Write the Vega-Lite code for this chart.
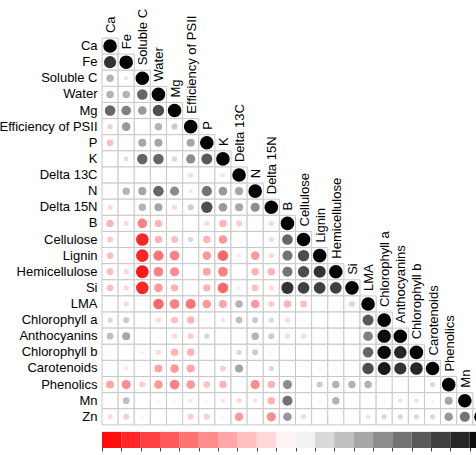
{
  "$schema": "https://vega.github.io/schema/vega-lite/v6.json",
  "autosize": {"type": "none"},
  "padding": {"left": 102, "top": 38, "right": 0, "bottom": 30},
  "width": 387,
  "height": 403,
  "config": {"view": {"stroke": null}},
  "datasets": {
    "corr": [
      {"r":"Ca","c":"Ca","v":1},
      {"r":"Fe","c":"Ca","v":0.8},{"r":"Fe","c":"Fe","v":1},
      {"r":"Soluble C","c":"Ca","v":0.3},{"r":"Soluble C","c":"Fe","v":0.1},{"r":"Soluble C","c":"Soluble C","v":1},
      {"r":"Water","c":"Ca","v":0.3},{"r":"Water","c":"Fe","v":0.3},{"r":"Water","c":"Soluble C","v":0.6},{"r":"Water","c":"Water","v":1},
      {"r":"Mg","c":"Ca","v":0.6},{"r":"Mg","c":"Fe","v":0.5},{"r":"Mg","c":"Soluble C","v":0.4},{"r":"Mg","c":"Water","v":0.7},{"r":"Mg","c":"Mg","v":1},
      {"r":"Efficiency of PSII","c":"Ca","v":0.15},{"r":"Efficiency of PSII","c":"Fe","v":0.4},{"r":"Efficiency of PSII","c":"Soluble C","v":0.03},{"r":"Efficiency of PSII","c":"Water","v":0.3},{"r":"Efficiency of PSII","c":"Mg","v":0.2},{"r":"Efficiency of PSII","c":"Efficiency of PSII","v":1},
      {"r":"P","c":"Ca","v":-0.25},{"r":"P","c":"Fe","v":0.02},{"r":"P","c":"Soluble C","v":0.35},{"r":"P","c":"Water","v":0.35},{"r":"P","c":"Mg","v":0.0},{"r":"P","c":"Efficiency of PSII","v":0.35},{"r":"P","c":"P","v":1},
      {"r":"K","c":"Ca","v":0.0},{"r":"K","c":"Fe","v":0.12},{"r":"K","c":"Soluble C","v":0.6},{"r":"K","c":"Water","v":0.6},{"r":"K","c":"Mg","v":0.15},{"r":"K","c":"Efficiency of PSII","v":0.45},{"r":"K","c":"P","v":0.65},{"r":"K","c":"K","v":1},
      {"r":"Delta 13C","c":"Ca","v":0.0},{"r":"Delta 13C","c":"Fe","v":0.02},{"r":"Delta 13C","c":"Soluble C","v":0.02},{"r":"Delta 13C","c":"Water","v":0.03},{"r":"Delta 13C","c":"Mg","v":0.0},{"r":"Delta 13C","c":"Efficiency of PSII","v":-0.15},{"r":"Delta 13C","c":"P","v":0.02},{"r":"Delta 13C","c":"K","v":-0.12},{"r":"Delta 13C","c":"Delta 13C","v":1},
      {"r":"N","c":"Ca","v":0.03},{"r":"N","c":"Fe","v":0.3},{"r":"N","c":"Soluble C","v":0.35},{"r":"N","c":"Water","v":0.6},{"r":"N","c":"Mg","v":0.45},{"r":"N","c":"Efficiency of PSII","v":0.08},{"r":"N","c":"P","v":0.55},{"r":"N","c":"K","v":0.4},{"r":"N","c":"Delta 13C","v":0.35},{"r":"N","c":"N","v":1},
      {"r":"Delta 15N","c":"Ca","v":-0.15},{"r":"Delta 15N","c":"Fe","v":0.03},{"r":"Delta 15N","c":"Soluble C","v":0.3},{"r":"Delta 15N","c":"Water","v":0.35},{"r":"Delta 15N","c":"Mg","v":-0.15},{"r":"Delta 15N","c":"Efficiency of PSII","v":0.2},{"r":"Delta 15N","c":"P","v":0.7},{"r":"Delta 15N","c":"K","v":0.4},{"r":"Delta 15N","c":"Delta 13C","v":0.35},{"r":"Delta 15N","c":"N","v":0.45},{"r":"Delta 15N","c":"Delta 15N","v":1},
      {"r":"B","c":"Ca","v":-0.3},{"r":"B","c":"Fe","v":-0.15},{"r":"B","c":"Soluble C","v":-0.5},{"r":"B","c":"Water","v":-0.3},{"r":"B","c":"Mg","v":-0.03},{"r":"B","c":"Efficiency of PSII","v":0.0},{"r":"B","c":"P","v":-0.15},{"r":"B","c":"K","v":-0.3},{"r":"B","c":"Delta 13C","v":-0.2},{"r":"B","c":"N","v":0.02},{"r":"B","c":"Delta 15N","v":-0.15},{"r":"B","c":"B","v":1},
      {"r":"Cellulose","c":"Ca","v":-0.2},{"r":"Cellulose","c":"Fe","v":-0.02},{"r":"Cellulose","c":"Soluble C","v":-0.85},{"r":"Cellulose","c":"Water","v":-0.3},{"r":"Cellulose","c":"Mg","v":-0.25},{"r":"Cellulose","c":"Efficiency of PSII","v":0.15},{"r":"Cellulose","c":"P","v":-0.3},{"r":"Cellulose","c":"K","v":-0.4},{"r":"Cellulose","c":"Delta 13C","v":0.0},{"r":"Cellulose","c":"N","v":-0.02},{"r":"Cellulose","c":"Delta 15N","v":-0.15},{"r":"Cellulose","c":"B","v":0.6},{"r":"Cellulose","c":"Cellulose","v":1},
      {"r":"Lignin","c":"Ca","v":-0.25},{"r":"Lignin","c":"Fe","v":-0.03},{"r":"Lignin","c":"Soluble C","v":-0.85},{"r":"Lignin","c":"Water","v":-0.55},{"r":"Lignin","c":"Mg","v":-0.5},{"r":"Lignin","c":"Efficiency of PSII","v":0.0},{"r":"Lignin","c":"P","v":-0.4},{"r":"Lignin","c":"K","v":-0.6},{"r":"Lignin","c":"Delta 13C","v":-0.1},{"r":"Lignin","c":"N","v":-0.4},{"r":"Lignin","c":"Delta 15N","v":-0.15},{"r":"Lignin","c":"B","v":0.55},{"r":"Lignin","c":"Cellulose","v":0.7},{"r":"Lignin","c":"Lignin","v":1},
      {"r":"Hemicellulose","c":"Ca","v":-0.25},{"r":"Hemicellulose","c":"Fe","v":-0.15},{"r":"Hemicellulose","c":"Soluble C","v":-0.9},{"r":"Hemicellulose","c":"Water","v":-0.5},{"r":"Hemicellulose","c":"Mg","v":-0.45},{"r":"Hemicellulose","c":"Efficiency of PSII","v":0.0},{"r":"Hemicellulose","c":"P","v":-0.35},{"r":"Hemicellulose","c":"K","v":-0.5},{"r":"Hemicellulose","c":"Delta 13C","v":0.02},{"r":"Hemicellulose","c":"N","v":-0.3},{"r":"Hemicellulose","c":"Delta 15N","v":-0.3},{"r":"Hemicellulose","c":"B","v":0.55},{"r":"Hemicellulose","c":"Cellulose","v":0.7},{"r":"Hemicellulose","c":"Lignin","v":0.8},{"r":"Hemicellulose","c":"Hemicellulose","v":1},
      {"r":"Si","c":"Ca","v":-0.25},{"r":"Si","c":"Fe","v":-0.15},{"r":"Si","c":"Soluble C","v":-0.85},{"r":"Si","c":"Water","v":-0.4},{"r":"Si","c":"Mg","v":-0.3},{"r":"Si","c":"Efficiency of PSII","v":-0.02},{"r":"Si","c":"P","v":-0.3},{"r":"Si","c":"K","v":-0.6},{"r":"Si","c":"Delta 13C","v":-0.08},{"r":"Si","c":"N","v":-0.25},{"r":"Si","c":"Delta 15N","v":-0.15},{"r":"Si","c":"B","v":0.8},{"r":"Si","c":"Cellulose","v":0.75},{"r":"Si","c":"Lignin","v":0.75},{"r":"Si","c":"Hemicellulose","v":0.75},{"r":"Si","c":"Si","v":1},
      {"r":"LMA","c":"Ca","v":-0.05},{"r":"LMA","c":"Fe","v":-0.15},{"r":"LMA","c":"Soluble C","v":-0.05},{"r":"LMA","c":"Water","v":-0.6},{"r":"LMA","c":"Mg","v":-0.5},{"r":"LMA","c":"Efficiency of PSII","v":-0.55},{"r":"LMA","c":"P","v":-0.4},{"r":"LMA","c":"K","v":-0.35},{"r":"LMA","c":"Delta 13C","v":0.3},{"r":"LMA","c":"N","v":-0.4},{"r":"LMA","c":"Delta 15N","v":-0.2},{"r":"LMA","c":"B","v":-0.3},{"r":"LMA","c":"Cellulose","v":-0.25},{"r":"LMA","c":"Lignin","v":0.02},{"r":"LMA","c":"Hemicellulose","v":0.02},{"r":"LMA","c":"Si","v":-0.2},{"r":"LMA","c":"LMA","v":1},
      {"r":"Chlorophyll a","c":"Ca","v":0.15},{"r":"Chlorophyll a","c":"Fe","v":0.2},{"r":"Chlorophyll a","c":"Soluble C","v":0.02},{"r":"Chlorophyll a","c":"Water","v":-0.15},{"r":"Chlorophyll a","c":"Mg","v":-0.25},{"r":"Chlorophyll a","c":"Efficiency of PSII","v":-0.3},{"r":"Chlorophyll a","c":"P","v":-0.05},{"r":"Chlorophyll a","c":"K","v":-0.12},{"r":"Chlorophyll a","c":"Delta 13C","v":0.25},{"r":"Chlorophyll a","c":"N","v":0.2},{"r":"Chlorophyll a","c":"Delta 15N","v":0.15},{"r":"Chlorophyll a","c":"B","v":-0.15},{"r":"Chlorophyll a","c":"Cellulose","v":0.03},{"r":"Chlorophyll a","c":"Lignin","v":0.0},{"r":"Chlorophyll a","c":"Hemicellulose","v":0.0},{"r":"Chlorophyll a","c":"Si","v":0.03},{"r":"Chlorophyll a","c":"LMA","v":0.65},{"r":"Chlorophyll a","c":"Chlorophyll a","v":1},
      {"r":"Anthocyanins","c":"Ca","v":0.25},{"r":"Anthocyanins","c":"Fe","v":0.35},{"r":"Anthocyanins","c":"Soluble C","v":-0.03},{"r":"Anthocyanins","c":"Water","v":-0.05},{"r":"Anthocyanins","c":"Mg","v":-0.15},{"r":"Anthocyanins","c":"Efficiency of PSII","v":-0.2},{"r":"Anthocyanins","c":"P","v":0.15},{"r":"Anthocyanins","c":"K","v":-0.03},{"r":"Anthocyanins","c":"Delta 13C","v":0.03},{"r":"Anthocyanins","c":"N","v":0.3},{"r":"Anthocyanins","c":"Delta 15N","v":0.2},{"r":"Anthocyanins","c":"B","v":-0.15},{"r":"Anthocyanins","c":"Cellulose","v":-0.15},{"r":"Anthocyanins","c":"Lignin","v":0.02},{"r":"Anthocyanins","c":"Hemicellulose","v":0.0},{"r":"Anthocyanins","c":"Si","v":0.02},{"r":"Anthocyanins","c":"LMA","v":0.5},{"r":"Anthocyanins","c":"Chlorophyll a","v":0.95},{"r":"Anthocyanins","c":"Anthocyanins","v":1},
      {"r":"Chlorophyll b","c":"Ca","v":0.0},{"r":"Chlorophyll b","c":"Fe","v":0.03},{"r":"Chlorophyll b","c":"Soluble C","v":0.05},{"r":"Chlorophyll b","c":"Water","v":-0.15},{"r":"Chlorophyll b","c":"Mg","v":-0.3},{"r":"Chlorophyll b","c":"Efficiency of PSII","v":-0.3},{"r":"Chlorophyll b","c":"P","v":-0.03},{"r":"Chlorophyll b","c":"K","v":-0.02},{"r":"Chlorophyll b","c":"Delta 13C","v":0.15},{"r":"Chlorophyll b","c":"N","v":0.2},{"r":"Chlorophyll b","c":"Delta 15N","v":0.05},{"r":"Chlorophyll b","c":"B","v":0.02},{"r":"Chlorophyll b","c":"Cellulose","v":0.02},{"r":"Chlorophyll b","c":"Lignin","v":0.02},{"r":"Chlorophyll b","c":"Hemicellulose","v":0.03},{"r":"Chlorophyll b","c":"Si","v":0.0},{"r":"Chlorophyll b","c":"LMA","v":0.6},{"r":"Chlorophyll b","c":"Chlorophyll a","v":0.97},{"r":"Chlorophyll b","c":"Anthocyanins","v":0.85},{"r":"Chlorophyll b","c":"Chlorophyll b","v":1},
      {"r":"Carotenoids","c":"Ca","v":0.0},{"r":"Carotenoids","c":"Fe","v":-0.1},{"r":"Carotenoids","c":"Soluble C","v":-0.02},{"r":"Carotenoids","c":"Water","v":-0.35},{"r":"Carotenoids","c":"Mg","v":-0.4},{"r":"Carotenoids","c":"Efficiency of PSII","v":-0.35},{"r":"Carotenoids","c":"P","v":0.0},{"r":"Carotenoids","c":"K","v":-0.2},{"r":"Carotenoids","c":"Delta 13C","v":0.35},{"r":"Carotenoids","c":"N","v":0.03},{"r":"Carotenoids","c":"Delta 15N","v":0.15},{"r":"Carotenoids","c":"B","v":0.02},{"r":"Carotenoids","c":"Cellulose","v":0.0},{"r":"Carotenoids","c":"Lignin","v":0.05},{"r":"Carotenoids","c":"Hemicellulose","v":0.05},{"r":"Carotenoids","c":"Si","v":0.0},{"r":"Carotenoids","c":"LMA","v":0.7},{"r":"Carotenoids","c":"Chlorophyll a","v":0.9},{"r":"Carotenoids","c":"Anthocyanins","v":0.8},{"r":"Carotenoids","c":"Chlorophyll b","v":0.85},{"r":"Carotenoids","c":"Carotenoids","v":1},
      {"r":"Phenolics","c":"Ca","v":-0.35},{"r":"Phenolics","c":"Fe","v":-0.45},{"r":"Phenolics","c":"Soluble C","v":-0.2},{"r":"Phenolics","c":"Water","v":-0.4},{"r":"Phenolics","c":"Mg","v":-0.5},{"r":"Phenolics","c":"Efficiency of PSII","v":-0.4},{"r":"Phenolics","c":"P","v":-0.25},{"r":"Phenolics","c":"K","v":-0.3},{"r":"Phenolics","c":"Delta 13C","v":0.0},{"r":"Phenolics","c":"N","v":-0.45},{"r":"Phenolics","c":"Delta 15N","v":-0.3},{"r":"Phenolics","c":"B","v":0.45},{"r":"Phenolics","c":"Cellulose","v":0.02},{"r":"Phenolics","c":"Lignin","v":0.2},{"r":"Phenolics","c":"Hemicellulose","v":0.3},{"r":"Phenolics","c":"Si","v":0.3},{"r":"Phenolics","c":"LMA","v":0.3},{"r":"Phenolics","c":"Chlorophyll a","v":0.03},{"r":"Phenolics","c":"Anthocyanins","v":0.03},{"r":"Phenolics","c":"Chlorophyll b","v":0.02},{"r":"Phenolics","c":"Carotenoids","v":0.15},{"r":"Phenolics","c":"Phenolics","v":1},
      {"r":"Mn","c":"Ca","v":0.0},{"r":"Mn","c":"Fe","v":0.25},{"r":"Mn","c":"Soluble C","v":0.03},{"r":"Mn","c":"Water","v":-0.05},{"r":"Mn","c":"Mg","v":-0.05},{"r":"Mn","c":"Efficiency of PSII","v":-0.1},{"r":"Mn","c":"P","v":-0.05},{"r":"Mn","c":"K","v":-0.1},{"r":"Mn","c":"Delta 13C","v":-0.15},{"r":"Mn","c":"N","v":0.1},{"r":"Mn","c":"Delta 15N","v":-0.3},{"r":"Mn","c":"B","v":0.55},{"r":"Mn","c":"Cellulose","v":0.02},{"r":"Mn","c":"Lignin","v":0.05},{"r":"Mn","c":"Hemicellulose","v":0.3},{"r":"Mn","c":"Si","v":0.03},{"r":"Mn","c":"LMA","v":0.0},{"r":"Mn","c":"Chlorophyll a","v":0.05},{"r":"Mn","c":"Anthocyanins","v":0.1},{"r":"Mn","c":"Chlorophyll b","v":0.1},{"r":"Mn","c":"Carotenoids","v":0.05},{"r":"Mn","c":"Phenolics","v":0.35},{"r":"Mn","c":"Mn","v":1},
      {"r":"Zn","c":"Ca","v":-0.15},{"r":"Zn","c":"Fe","v":-0.2},{"r":"Zn","c":"Soluble C","v":-0.05},{"r":"Zn","c":"Water","v":0.0},{"r":"Zn","c":"Mg","v":-0.03},{"r":"Zn","c":"Efficiency of PSII","v":-0.2},{"r":"Zn","c":"P","v":-0.2},{"r":"Zn","c":"K","v":-0.05},{"r":"Zn","c":"Delta 13C","v":-0.4},{"r":"Zn","c":"N","v":0.02},{"r":"Zn","c":"Delta 15N","v":-0.45},{"r":"Zn","c":"B","v":0.4},{"r":"Zn","c":"Cellulose","v":-0.15},{"r":"Zn","c":"Lignin","v":0.02},{"r":"Zn","c":"Hemicellulose","v":0.02},{"r":"Zn","c":"Si","v":0.02},{"r":"Zn","c":"LMA","v":0.1},{"r":"Zn","c":"Chlorophyll a","v":0.15},{"r":"Zn","c":"Anthocyanins","v":0.15},{"r":"Zn","c":"Chlorophyll b","v":0.15},{"r":"Zn","c":"Carotenoids","v":0.15},{"r":"Zn","c":"Phenolics","v":0.4},{"r":"Zn","c":"Mn","v":0.55},{"r":"Zn","c":"Zn","v":1}
    ],
    "bar": [
      {"lo":-1.0,"hi":-0.9,"mid":-0.95},{"lo":-0.9,"hi":-0.8,"mid":-0.85},{"lo":-0.8,"hi":-0.7,"mid":-0.75},{"lo":-0.7,"hi":-0.6,"mid":-0.65},{"lo":-0.6,"hi":-0.5,"mid":-0.55},
      {"lo":-0.5,"hi":-0.4,"mid":-0.45},{"lo":-0.4,"hi":-0.3,"mid":-0.35},{"lo":-0.3,"hi":-0.2,"mid":-0.25},{"lo":-0.2,"hi":-0.1,"mid":-0.15},{"lo":-0.1,"hi":0.0,"mid":-0.05},
      {"lo":0.0,"hi":0.1,"mid":0.05},{"lo":0.1,"hi":0.2,"mid":0.15},{"lo":0.2,"hi":0.3,"mid":0.25},{"lo":0.3,"hi":0.4,"mid":0.35},{"lo":0.4,"hi":0.5,"mid":0.45},
      {"lo":0.5,"hi":0.6,"mid":0.55},{"lo":0.6,"hi":0.7,"mid":0.65},{"lo":0.7,"hi":0.8,"mid":0.75},{"lo":0.8,"hi":0.9,"mid":0.85},{"lo":0.9,"hi":1.0,"mid":0.95}
    ]
  },
  "resolve": {"scale": {"x": "independent"}, "axis": {"x": "independent"}},
  "layer": [
    {
      "data": {"name": "corr"},
      "mark": {"type": "rect", "fill": "white", "stroke": "#c8c8c8", "strokeWidth": 1},
      "encoding": {
        "x": {"field": "c", "type": "nominal", "axis": null, "scale": {"domain": ["Ca","Fe","Soluble C","Water","Mg","Efficiency of PSII","P","K","Delta 13C","N","Delta 15N","B","Cellulose","Lignin","Hemicellulose","Si","LMA","Chlorophyll a","Anthocyanins","Chlorophyll b","Carotenoids","Phenolics","Mn","Zn"], "paddingInner": 0, "paddingOuter": 0}},
        "y": {"field": "r", "type": "nominal", "scale": {"domain": ["Ca","Fe","Soluble C","Water","Mg","Efficiency of PSII","P","K","Delta 13C","N","Delta 15N","B","Cellulose","Lignin","Hemicellulose","Si","LMA","Chlorophyll a","Anthocyanins","Chlorophyll b","Carotenoids","Phenolics","Mn","Zn","bar"], "paddingInner": 0, "paddingOuter": 0},
          "axis": {"title": null, "domain": false, "ticks": false, "tickSize": 0, "grid": false, "labelPadding": 5, "labelFont": "Liberation Sans", "labelFontSize": 13, "labelColor": "#000000", "labelExpr": "datum.value == 'bar' ? '' : datum.label"}}
      }
    },
    {
      "data": {"name": "corr"},
      "mark": {"type": "circle", "opacity": 1, "strokeWidth": 0},
      "encoding": {
        "x": {"field": "c", "type": "nominal", "axis": null, "scale": {"domain": ["Ca","Fe","Soluble C","Water","Mg","Efficiency of PSII","P","K","Delta 13C","N","Delta 15N","B","Cellulose","Lignin","Hemicellulose","Si","LMA","Chlorophyll a","Anthocyanins","Chlorophyll b","Carotenoids","Phenolics","Mn","Zn"], "paddingInner": 0, "paddingOuter": 0}},
        "y": {"field": "r", "type": "nominal", "axis": {"title": null, "domain": false, "ticks": false, "tickSize": 0, "grid": false, "labelPadding": 5, "labelFont": "Liberation Sans", "labelFontSize": 13, "labelColor": "#000000", "labelExpr": "datum.value == 'bar' ? '' : datum.label"}},
        "color": {"field": "v", "type": "quantitative", "scale": {"domain": [-1, 0, 1], "range": ["#FF0000", "#FFFFFF", "#000000"], "interpolate": "rgb"}, "legend": null},
        "size": {"field": "v", "type": "quantitative", "scale": {"domain": [-1, 0, 1], "range": [185, 0, 185]}, "legend": null}
      }
    },
    {
      "data": {"name": "corr"},
      "transform": [{"filter": "datum.r == datum.c"}],
      "mark": {"type": "text", "angle": 270, "align": "left", "baseline": "middle", "dx": 13, "dy": 1, "font": "Liberation Sans", "fontSize": 13, "color": "#000000"},
      "encoding": {
        "x": {"field": "c", "type": "nominal", "axis": null, "scale": {"domain": ["Ca","Fe","Soluble C","Water","Mg","Efficiency of PSII","P","K","Delta 13C","N","Delta 15N","B","Cellulose","Lignin","Hemicellulose","Si","LMA","Chlorophyll a","Anthocyanins","Chlorophyll b","Carotenoids","Phenolics","Mn","Zn"], "paddingInner": 0, "paddingOuter": 0}},
        "y": {"field": "r", "type": "nominal", "axis": {"title": null, "domain": false, "ticks": false, "tickSize": 0, "grid": false, "labelPadding": 5, "labelFont": "Liberation Sans", "labelFontSize": 13, "labelColor": "#000000", "labelExpr": "datum.value == 'bar' ? '' : datum.label"}},
        "text": {"field": "c"}
      }
    },
    {
      "data": {"name": "bar"},
      "mark": {"type": "rect", "yOffset": 7},
      "encoding": {
        "x": {"field": "lo", "type": "quantitative", "scale": {"domain": [-1, 1], "nice": false, "zero": false},
          "axis": {"title": null, "orient": "bottom", "offset": 6, "domain": false, "grid": false, "labels": false, "values": [-1,-0.9,-0.8,-0.7,-0.6,-0.5,-0.4,-0.3,-0.2,-0.1,0,0.1,0.2,0.3,0.4,0.5,0.6,0.7,0.8,0.9,1], "tickSize": 4, "tickColor": "#444444"}},
        "x2": {"field": "hi"},
        "y": {"datum": "bar", "type": "nominal", "axis": {"title": null, "domain": false, "ticks": false, "tickSize": 0, "grid": false, "labelPadding": 5, "labelFont": "Liberation Sans", "labelFontSize": 13, "labelColor": "#000000", "labelExpr": "datum.value == 'bar' ? '' : datum.label"}},
        "color": {"field": "mid", "type": "quantitative", "scale": {"domain": [-1, 0, 1], "range": ["#FF0000", "#FFFFFF", "#000000"], "interpolate": "rgb"}, "legend": null}
      }
    }
  ]
}
